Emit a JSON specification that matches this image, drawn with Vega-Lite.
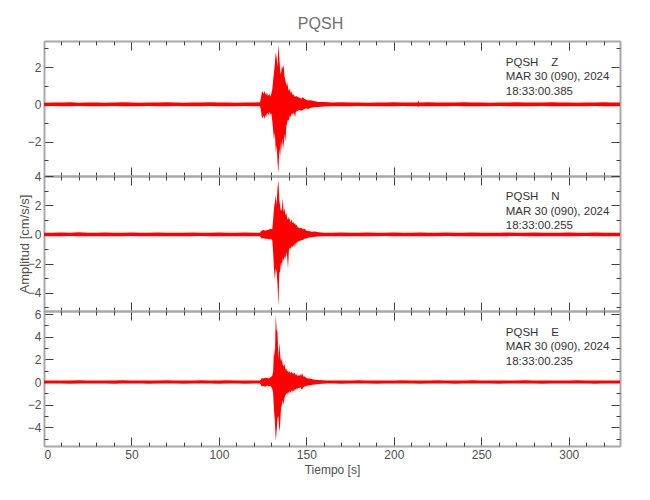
{
  "$schema": "https://vega.github.io/schema/vega-lite/v6.json",
  "background": "white",
  "padding": {"left": 18, "top": 15, "right": 20, "bottom": 5},
  "title": {"text": "PQSH", "fontSize": 16, "font": "Liberation Sans, sans-serif", "fontWeight": "normal", "color": "#707070", "anchor": "middle", "offset": 9},
  "spacing": 0,
  "bounds": "flush",
  "config": {
    "view": {"stroke": null},
    "axis": {"domainColor": "#a8a8a8", "domainWidth": 2, "tickColor": "#404040", "tickWidth": 1, "grid": false,
      "labelFont": "Liberation Sans, sans-serif", "labelFontSize": 12, "labelColor": "#505050",
      "titleFont": "Liberation Sans, sans-serif", "titleFontSize": 13, "titleFontWeight": "normal", "titleColor": "#505050"}
  },
  "datasets": {
    "Z": [
      {"t":0,"lo":-0.1,"hi":0.09},{"t":5,"lo":-0.09,"hi":0.1},{"t":10,"lo":-0.11,"hi":0.1},{"t":15,"lo":-0.1,"hi":0.11},{"t":20,"lo":-0.09,"hi":0.09},
      {"t":25,"lo":-0.1,"hi":0.1},{"t":30,"lo":-0.11,"hi":0.1},{"t":35,"lo":-0.1,"hi":0.09},{"t":40,"lo":-0.09,"hi":0.1},{"t":45,"lo":-0.1,"hi":0.11},
      {"t":50,"lo":-0.1,"hi":0.1},{"t":55,"lo":-0.11,"hi":0.09},{"t":60,"lo":-0.09,"hi":0.1},{"t":65,"lo":-0.1,"hi":0.1},{"t":70,"lo":-0.1,"hi":0.11},
      {"t":75,"lo":-0.09,"hi":0.1},{"t":80,"lo":-0.1,"hi":0.09},{"t":85,"lo":-0.11,"hi":0.1},{"t":90,"lo":-0.1,"hi":0.1},{"t":95,"lo":-0.09,"hi":0.11},
      {"t":100,"lo":-0.1,"hi":0.1},{"t":105,"lo":-0.11,"hi":0.1},{"t":110,"lo":-0.1,"hi":0.09},{"t":115,"lo":-0.09,"hi":0.1},{"t":120,"lo":-0.1,"hi":0.1},
      {"t":123.5,"lo":-0.1,"hi":0.11},{"t":124,"lo":-0.3,"hi":0.35},{"t":124.5,"lo":-0.65,"hi":0.62},{"t":125,"lo":-0.75,"hi":0.7},{"t":125.5,"lo":-0.6,"hi":0.55},
      {"t":126,"lo":-0.8,"hi":0.72},{"t":126.5,"lo":-0.55,"hi":0.6},{"t":127,"lo":-0.7,"hi":0.5},{"t":127.5,"lo":-0.5,"hi":0.65},{"t":128,"lo":-0.45,"hi":0.45},
      {"t":128.5,"lo":-0.6,"hi":0.5},{"t":129,"lo":-0.4,"hi":0.55},{"t":129.5,"lo":-0.55,"hi":0.4},{"t":130,"lo":-0.5,"hi":0.6},{"t":130.5,"lo":-0.9,"hi":0.8},
      {"t":131,"lo":-1.4,"hi":1.3},{"t":131.5,"lo":-1.9,"hi":1.7},{"t":132,"lo":-1.5,"hi":2.2},{"t":132.5,"lo":-2.6,"hi":2.8},{"t":133,"lo":-2.2,"hi":2.5},
      {"t":133.5,"lo":-3.1,"hi":2.0},{"t":134,"lo":-3.7,"hi":3.2},{"t":134.5,"lo":-2.4,"hi":2.6},{"t":135,"lo":-2.8,"hi":1.8},{"t":135.5,"lo":-2.0,"hi":1.6},
      {"t":136,"lo":-2.5,"hi":2.1},{"t":136.5,"lo":-1.8,"hi":1.9},{"t":137,"lo":-2.4,"hi":2.1},{"t":137.5,"lo":-1.6,"hi":1.5},{"t":138,"lo":-2.0,"hi":1.3},
      {"t":138.5,"lo":-1.2,"hi":1.0},{"t":139,"lo":-1.0,"hi":1.2},{"t":139.5,"lo":-0.8,"hi":0.9},{"t":140,"lo":-0.9,"hi":0.7},{"t":140.5,"lo":-0.6,"hi":0.85},
      {"t":141,"lo":-0.7,"hi":0.6},{"t":141.5,"lo":-0.5,"hi":0.7},{"t":142,"lo":-0.55,"hi":0.5},{"t":142.5,"lo":-0.45,"hi":0.55},{"t":143,"lo":-0.5,"hi":0.45},
      {"t":143.5,"lo":-0.7,"hi":0.4},{"t":144,"lo":-0.4,"hi":0.45},{"t":145,"lo":-0.35,"hi":0.4},{"t":146,"lo":-0.3,"hi":0.35},{"t":147,"lo":-0.35,"hi":0.3},
      {"t":148,"lo":-0.3,"hi":0.38},{"t":149,"lo":-0.25,"hi":0.28},{"t":150,"lo":-0.22,"hi":0.25},{"t":151,"lo":-0.25,"hi":0.2},{"t":152,"lo":-0.2,"hi":0.22},
      {"t":153,"lo":-0.18,"hi":0.2},{"t":155,"lo":-0.15,"hi":0.16},{"t":157,"lo":-0.14,"hi":0.13},{"t":160,"lo":-0.12,"hi":0.12},
      {"t":165,"lo":-0.11,"hi":0.1},{"t":170,"lo":-0.1,"hi":0.11},{"t":175,"lo":-0.1,"hi":0.1},{"t":180,"lo":-0.09,"hi":0.1},{"t":185,"lo":-0.1,"hi":0.09},
      {"t":190,"lo":-0.1,"hi":0.1},{"t":195,"lo":-0.11,"hi":0.1},{"t":200,"lo":-0.1,"hi":0.11},{"t":205,"lo":-0.09,"hi":0.1},{"t":210,"lo":-0.1,"hi":0.1},
      {"t":213.5,"lo":-0.1,"hi":0.1},{"t":214,"lo":-0.15,"hi":0.2},{"t":214.5,"lo":-0.1,"hi":0.1},{"t":220,"lo":-0.1,"hi":0.11},{"t":225,"lo":-0.11,"hi":0.1},
      {"t":230,"lo":-0.1,"hi":0.1},{"t":235,"lo":-0.09,"hi":0.1},{"t":240,"lo":-0.1,"hi":0.11},{"t":245,"lo":-0.1,"hi":0.1},{"t":250,"lo":-0.11,"hi":0.1},
      {"t":255,"lo":-0.1,"hi":0.09},{"t":260,"lo":-0.09,"hi":0.1},{"t":265,"lo":-0.1,"hi":0.1},{"t":270,"lo":-0.1,"hi":0.11},{"t":275,"lo":-0.11,"hi":0.1},
      {"t":280,"lo":-0.1,"hi":0.1},{"t":285,"lo":-0.09,"hi":0.1},{"t":290,"lo":-0.1,"hi":0.11},{"t":295,"lo":-0.1,"hi":0.1},{"t":300,"lo":-0.11,"hi":0.1},
      {"t":305,"lo":-0.1,"hi":0.09},{"t":310,"lo":-0.1,"hi":0.1},{"t":315,"lo":-0.09,"hi":0.1},{"t":320,"lo":-0.1,"hi":0.11},{"t":325,"lo":-0.1,"hi":0.1},
      {"t":329.3,"lo":-0.1,"hi":0.1}
    ],
    "N": [
      {"t":0,"lo":-0.12,"hi":0.12},{"t":5,"lo":-0.13,"hi":0.12},{"t":10,"lo":-0.12,"hi":0.13},{"t":15,"lo":-0.11,"hi":0.12},{"t":20,"lo":-0.12,"hi":0.14},
      {"t":25,"lo":-0.13,"hi":0.12},{"t":30,"lo":-0.12,"hi":0.12},{"t":35,"lo":-0.12,"hi":0.13},{"t":40,"lo":-0.13,"hi":0.12},{"t":45,"lo":-0.12,"hi":0.12},
      {"t":50,"lo":-0.11,"hi":0.13},{"t":55,"lo":-0.12,"hi":0.12},{"t":60,"lo":-0.13,"hi":0.12},{"t":65,"lo":-0.12,"hi":0.13},{"t":70,"lo":-0.12,"hi":0.12},
      {"t":75,"lo":-0.13,"hi":0.12},{"t":80,"lo":-0.12,"hi":0.12},{"t":85,"lo":-0.12,"hi":0.13},{"t":90,"lo":-0.11,"hi":0.12},{"t":95,"lo":-0.12,"hi":0.12},
      {"t":100,"lo":-0.13,"hi":0.13},{"t":105,"lo":-0.12,"hi":0.12},{"t":110,"lo":-0.12,"hi":0.12},{"t":115,"lo":-0.13,"hi":0.13},{"t":120,"lo":-0.12,"hi":0.12},
      {"t":123.5,"lo":-0.12,"hi":0.12},{"t":124,"lo":-0.2,"hi":0.2},{"t":124.5,"lo":-0.3,"hi":0.27},{"t":125.5,"lo":-0.25,"hi":0.3},{"t":126.5,"lo":-0.32,"hi":0.25},
      {"t":127.5,"lo":-0.28,"hi":0.3},{"t":128.5,"lo":-0.35,"hi":0.32},{"t":129.5,"lo":-0.3,"hi":0.38},{"t":130.5,"lo":-0.4,"hi":0.35},{"t":131,"lo":-1.2,"hi":1.0},
      {"t":131.5,"lo":-2.4,"hi":1.8},{"t":132,"lo":-3.1,"hi":2.2},{"t":132.5,"lo":-2.3,"hi":2.7},{"t":133,"lo":-2.6,"hi":2.0},{"t":133.5,"lo":-3.4,"hi":3.2},
      {"t":134,"lo":-4.95,"hi":3.7},{"t":134.5,"lo":-2.7,"hi":2.4},{"t":135,"lo":-2.5,"hi":1.9},{"t":135.5,"lo":-1.9,"hi":1.6},{"t":136,"lo":-2.2,"hi":1.7},
      {"t":136.5,"lo":-1.6,"hi":2.5},{"t":137,"lo":-1.8,"hi":1.5},{"t":137.5,"lo":-1.5,"hi":1.8},{"t":138,"lo":-1.7,"hi":1.3},{"t":138.5,"lo":-1.2,"hi":1.5},
      {"t":139,"lo":-1.5,"hi":1.1},{"t":139.5,"lo":-2.35,"hi":1.0},{"t":140,"lo":-1.1,"hi":1.2},{"t":140.5,"lo":-0.9,"hi":1.0},{"t":141,"lo":-1.0,"hi":0.8},
      {"t":141.5,"lo":-0.8,"hi":1.05},{"t":142,"lo":-0.9,"hi":0.75},{"t":142.5,"lo":-0.7,"hi":0.9},{"t":143,"lo":-0.85,"hi":0.7},{"t":143.5,"lo":-0.6,"hi":0.8},
      {"t":144,"lo":-0.7,"hi":0.6},{"t":144.5,"lo":-0.55,"hi":0.65},{"t":145,"lo":-0.5,"hi":0.5},{"t":146,"lo":-0.45,"hi":0.42},{"t":147,"lo":-0.4,"hi":0.45},
      {"t":148,"lo":-0.38,"hi":0.35},{"t":149,"lo":-0.3,"hi":0.38},{"t":150,"lo":-0.28,"hi":0.25},{"t":151.5,"lo":-0.22,"hi":0.24},{"t":153,"lo":-0.2,"hi":0.18},
      {"t":155,"lo":-0.17,"hi":0.2},{"t":157,"lo":-0.15,"hi":0.15},{"t":160,"lo":-0.13,"hi":0.12},
      {"t":165,"lo":-0.13,"hi":0.12},{"t":170,"lo":-0.12,"hi":0.13},{"t":175,"lo":-0.12,"hi":0.12},{"t":180,"lo":-0.13,"hi":0.12},{"t":185,"lo":-0.12,"hi":0.13},
      {"t":190,"lo":-0.12,"hi":0.12},{"t":195,"lo":-0.11,"hi":0.12},{"t":200,"lo":-0.12,"hi":0.13},{"t":205,"lo":-0.13,"hi":0.12},{"t":210,"lo":-0.12,"hi":0.12},
      {"t":215,"lo":-0.12,"hi":0.13},{"t":220,"lo":-0.13,"hi":0.12},{"t":225,"lo":-0.12,"hi":0.12},{"t":230,"lo":-0.11,"hi":0.13},{"t":235,"lo":-0.12,"hi":0.12},
      {"t":240,"lo":-0.13,"hi":0.12},{"t":245,"lo":-0.12,"hi":0.13},{"t":250,"lo":-0.12,"hi":0.12},{"t":255,"lo":-0.13,"hi":0.12},{"t":260,"lo":-0.12,"hi":0.12},
      {"t":265,"lo":-0.12,"hi":0.13},{"t":270,"lo":-0.11,"hi":0.12},{"t":275,"lo":-0.12,"hi":0.12},{"t":280,"lo":-0.13,"hi":0.13},{"t":285,"lo":-0.12,"hi":0.12},
      {"t":290,"lo":-0.12,"hi":0.12},{"t":295,"lo":-0.13,"hi":0.12},{"t":300,"lo":-0.12,"hi":0.13},{"t":305,"lo":-0.12,"hi":0.12},{"t":310,"lo":-0.11,"hi":0.12},
      {"t":315,"lo":-0.12,"hi":0.13},{"t":320,"lo":-0.13,"hi":0.12},{"t":325,"lo":-0.12,"hi":0.12},{"t":329.3,"lo":-0.12,"hi":0.12}
    ],
    "E": [
      {"t":0,"lo":-0.14,"hi":0.13},{"t":5,"lo":-0.13,"hi":0.14},{"t":10,"lo":-0.14,"hi":0.14},{"t":15,"lo":-0.15,"hi":0.13},{"t":20,"lo":-0.13,"hi":0.15},
      {"t":25,"lo":-0.14,"hi":0.14},{"t":30,"lo":-0.14,"hi":0.13},{"t":35,"lo":-0.13,"hi":0.14},{"t":40,"lo":-0.15,"hi":0.14},{"t":45,"lo":-0.14,"hi":0.15},
      {"t":50,"lo":-0.13,"hi":0.14},{"t":55,"lo":-0.14,"hi":0.13},{"t":60,"lo":-0.15,"hi":0.14},{"t":65,"lo":-0.14,"hi":0.14},{"t":70,"lo":-0.13,"hi":0.15},
      {"t":75,"lo":-0.14,"hi":0.14},{"t":80,"lo":-0.15,"hi":0.13},{"t":85,"lo":-0.14,"hi":0.14},{"t":90,"lo":-0.13,"hi":0.15},{"t":95,"lo":-0.14,"hi":0.14},
      {"t":100,"lo":-0.15,"hi":0.14},{"t":105,"lo":-0.14,"hi":0.15},{"t":110,"lo":-0.14,"hi":0.14},{"t":115,"lo":-0.15,"hi":0.14},{"t":120,"lo":-0.14,"hi":0.14},
      {"t":123.5,"lo":-0.14,"hi":0.14},{"t":124,"lo":-0.25,"hi":0.2},{"t":124.5,"lo":-0.4,"hi":0.35},{"t":125.5,"lo":-0.35,"hi":0.3},{"t":126.5,"lo":-0.42,"hi":0.38},
      {"t":127.5,"lo":-0.3,"hi":0.35},{"t":128.5,"lo":-0.38,"hi":0.3},{"t":129.5,"lo":-0.35,"hi":0.42},{"t":130.5,"lo":-0.6,"hi":0.55},{"t":131,"lo":-1.0,"hi":0.9},
      {"t":131.5,"lo":-2.5,"hi":3.0},{"t":132,"lo":-3.5,"hi":2.2},{"t":132.5,"lo":-5.2,"hi":5.97},{"t":133,"lo":-4.3,"hi":4.6},{"t":133.5,"lo":-3.2,"hi":4.4},
      {"t":134,"lo":-3.0,"hi":2.0},{"t":134.5,"lo":-4.4,"hi":3.5},{"t":135,"lo":-3.8,"hi":2.4},{"t":135.5,"lo":-2.3,"hi":1.8},{"t":136,"lo":-2.0,"hi":2.1},
      {"t":136.5,"lo":-1.6,"hi":1.5},{"t":137,"lo":-2.0,"hi":1.4},{"t":137.5,"lo":-1.4,"hi":1.6},{"t":138,"lo":-1.2,"hi":1.1},{"t":138.5,"lo":-1.0,"hi":1.2},
      {"t":139,"lo":-1.1,"hi":0.9},{"t":139.5,"lo":-0.9,"hi":1.05},{"t":140,"lo":-1.0,"hi":0.8},{"t":140.5,"lo":-0.8,"hi":1.0},{"t":141,"lo":-0.95,"hi":0.75},
      {"t":141.5,"lo":-0.7,"hi":0.9},{"t":142,"lo":-0.85,"hi":0.8},{"t":142.5,"lo":-0.75,"hi":0.7},{"t":143,"lo":-0.8,"hi":0.85},{"t":143.5,"lo":-0.6,"hi":0.75},
      {"t":144,"lo":-0.7,"hi":0.6},{"t":144.5,"lo":-0.55,"hi":0.7},{"t":145,"lo":-0.6,"hi":0.5},{"t":145.5,"lo":-0.5,"hi":0.6},{"t":146,"lo":-0.55,"hi":0.55},
      {"t":146.5,"lo":-0.45,"hi":0.7},{"t":147,"lo":-0.6,"hi":0.5},{"t":147.5,"lo":-0.7,"hi":0.8},{"t":148,"lo":-0.5,"hi":0.6},{"t":148.5,"lo":-0.45,"hi":0.45},
      {"t":149,"lo":-0.4,"hi":0.5},{"t":150,"lo":-0.35,"hi":0.35},{"t":151,"lo":-0.3,"hi":0.32},{"t":152,"lo":-0.28,"hi":0.3},{"t":153.5,"lo":-0.25,"hi":0.25},
      {"t":155,"lo":-0.22,"hi":0.2},{"t":157,"lo":-0.18,"hi":0.18},{"t":159,"lo":-0.15,"hi":0.16},{"t":162,"lo":-0.14,"hi":0.14},
      {"t":165,"lo":-0.14,"hi":0.14},{"t":170,"lo":-0.15,"hi":0.13},{"t":175,"lo":-0.14,"hi":0.14},{"t":180,"lo":-0.13,"hi":0.15},{"t":185,"lo":-0.14,"hi":0.14},
      {"t":190,"lo":-0.15,"hi":0.14},{"t":195,"lo":-0.14,"hi":0.13},{"t":200,"lo":-0.13,"hi":0.14},{"t":205,"lo":-0.14,"hi":0.15},{"t":210,"lo":-0.14,"hi":0.14},
      {"t":215,"lo":-0.15,"hi":0.14},{"t":220,"lo":-0.14,"hi":0.14},{"t":225,"lo":-0.13,"hi":0.15},{"t":230,"lo":-0.14,"hi":0.14},{"t":235,"lo":-0.15,"hi":0.13},
      {"t":240,"lo":-0.14,"hi":0.14},{"t":245,"lo":-0.14,"hi":0.15},{"t":250,"lo":-0.13,"hi":0.14},{"t":255,"lo":-0.14,"hi":0.14},{"t":260,"lo":-0.15,"hi":0.14},
      {"t":265,"lo":-0.14,"hi":0.13},{"t":270,"lo":-0.14,"hi":0.14},{"t":275,"lo":-0.13,"hi":0.15},{"t":280,"lo":-0.14,"hi":0.14},{"t":285,"lo":-0.15,"hi":0.14},
      {"t":290,"lo":-0.14,"hi":0.14},{"t":295,"lo":-0.14,"hi":0.13},{"t":300,"lo":-0.13,"hi":0.14},{"t":305,"lo":-0.14,"hi":0.15},{"t":310,"lo":-0.14,"hi":0.14},
      {"t":315,"lo":-0.15,"hi":0.14},{"t":320,"lo":-0.14,"hi":0.14},{"t":325,"lo":-0.13,"hi":0.14},{"t":329.3,"lo":-0.14,"hi":0.14}
    ]
  },
  "vconcat": [
    {
      "width": 576, "height": 135,
      "data": {"name": "Z"},
      "layer": [
        {"mark": {"type": "area", "color": "#ff0000", "clip": true},
         "encoding": {
           "x": {"field": "t", "type": "quantitative", "scale": {"domain": [0, 329.3], "nice": false, "zero": false},
                 "axis": {"orient": "bottom", "values": [0,50,100,150,200,250,300], "tickSize": -9, "labels": false, "title": null}},
           "y": {"field": "lo", "type": "quantitative", "scale": {"domain": [-3.85, 3.4], "nice": false, "zero": false},
                 "axis": {"orient": "left", "values": [-2,0,2], "tickSize": -9, "labelPadding": 12, "title": "Amplitud [cm/s/s]", "titleColor": "transparent", "titlePadding": -4}},
           "y2": {"field": "hi"}
         }},
        {"mark": {"type": "point", "opacity": 0},
         "encoding": {
           "x": {"field": "t", "type": "quantitative", "axis": {"orient": "bottom", "values": [10,20,30,40,60,70,80,90,110,120,130,140,160,170,180,190,210,220,230,240,260,270,280,290,310,320], "tickSize": -4, "labels": false, "domain": false, "title": null}},
           "y": {"field": "lo", "type": "quantitative", "axis": {"orient": "left", "values": [-3,-1,1,3], "tickSize": -4, "labels": false, "domain": false, "title": null}}
         }},
        {"mark": {"type": "point", "opacity": 0},
         "encoding": {
           "x": {"field": "t", "type": "quantitative", "axis": {"orient": "top", "values": [0,50,100,150,200,250,300], "tickSize": -9, "labels": false, "title": null}},
           "y": {"field": "lo", "type": "quantitative", "axis": {"orient": "right", "values": [-2,0,2], "tickSize": -9, "labels": false, "title": null}}
         }},
        {"mark": {"type": "point", "opacity": 0},
         "encoding": {
           "x": {"field": "t", "type": "quantitative", "axis": {"orient": "top", "values": [10,20,30,40,60,70,80,90,110,120,130,140,160,170,180,190,210,220,230,240,260,270,280,290,310,320], "tickSize": -4, "labels": false, "domain": false, "title": null}},
           "y": {"field": "lo", "type": "quantitative", "axis": {"orient": "right", "values": [-3,-1,1,3], "tickSize": -4, "labels": false, "domain": false, "title": null}}
         }},
        {"data": {"values": [{"station": "PQSH", "comp": "Z"}]},
         "mark": {"type": "text", "text": ["PQSH\u00a0\u00a0\u00a0\u00a0Z", "MAR 30 (090), 2024", "18:33:00.385"], "align": "left", "baseline": "top", "lineHeight": 14.5, "fontSize": 11.5, "font": "Liberation Sans, sans-serif", "color": "#333333"},
         "encoding": {"x": {"datum": 264, "type": "quantitative", "axis": null}, "y": {"datum": 2.56, "type": "quantitative", "axis": null}}}
      ],
      "resolve": {"axis": {"x": "independent", "y": "independent"}}
    },
    {
      "width": 576, "height": 135,
      "data": {"name": "N"},
      "layer": [
        {"mark": {"type": "area", "color": "#ff0000", "clip": true},
         "encoding": {
           "x": {"field": "t", "type": "quantitative", "scale": {"domain": [0, 329.3], "nice": false, "zero": false},
                 "axis": {"orient": "bottom", "values": [0,50,100,150,200,250,300], "tickSize": -9, "labels": false, "title": null}},
           "y": {"field": "lo", "type": "quantitative", "scale": {"domain": [-5.25, 4.0], "nice": false, "zero": false},
                 "axis": {"orient": "left", "values": [-4,-2,0,2,4], "tickSize": -9, "labelPadding": 12, "title": "Amplitud [cm/s/s]", "titlePadding": -4}},
           "y2": {"field": "hi"}
         }},
        {"mark": {"type": "point", "opacity": 0},
         "encoding": {
           "x": {"field": "t", "type": "quantitative", "axis": {"orient": "bottom", "values": [10,20,30,40,60,70,80,90,110,120,130,140,160,170,180,190,210,220,230,240,260,270,280,290,310,320], "tickSize": -4, "labels": false, "domain": false, "title": null}},
           "y": {"field": "lo", "type": "quantitative", "axis": {"orient": "left", "values": [-5,-3,-1,1,3], "tickSize": -4, "labels": false, "domain": false, "title": null}}
         }},
        {"mark": {"type": "point", "opacity": 0},
         "encoding": {
           "x": {"field": "t", "type": "quantitative", "axis": {"orient": "top", "values": [0,50,100,150,200,250,300], "tickSize": -9, "labels": false, "title": null}},
           "y": {"field": "lo", "type": "quantitative", "axis": {"orient": "right", "values": [-4,-2,0,2,4], "tickSize": -9, "labels": false, "title": null}}
         }},
        {"mark": {"type": "point", "opacity": 0},
         "encoding": {
           "x": {"field": "t", "type": "quantitative", "axis": {"orient": "top", "values": [10,20,30,40,60,70,80,90,110,120,130,140,160,170,180,190,210,220,230,240,260,270,280,290,310,320], "tickSize": -4, "labels": false, "domain": false, "title": null}},
           "y": {"field": "lo", "type": "quantitative", "axis": {"orient": "right", "values": [-5,-3,-1,1,3], "tickSize": -4, "labels": false, "domain": false, "title": null}}
         }},
        {"data": {"values": [{"station": "PQSH", "comp": "N"}]},
         "mark": {"type": "text", "text": ["PQSH\u00a0\u00a0\u00a0\u00a0N", "MAR 30 (090), 2024", "18:33:00.255"], "align": "left", "baseline": "top", "lineHeight": 14.5, "fontSize": 11.5, "font": "Liberation Sans, sans-serif", "color": "#333333"},
         "encoding": {"x": {"datum": 264, "type": "quantitative", "axis": null}, "y": {"datum": 2.97, "type": "quantitative", "axis": null}}}
      ],
      "resolve": {"axis": {"x": "independent", "y": "independent"}}
    },
    {
      "width": 576, "height": 135,
      "data": {"name": "E"},
      "layer": [
        {"mark": {"type": "area", "color": "#ff0000", "clip": true},
         "encoding": {
           "x": {"field": "t", "type": "quantitative", "scale": {"domain": [0, 329.3], "nice": false, "zero": false},
                 "axis": {"orient": "bottom", "values": [0,50,100,150,200,250,300], "tickSize": -9, "labelPadding": 12, "title": "Tiempo [s]", "titleFontSize": 12, "titlePadding": 4}},
           "y": {"field": "lo", "type": "quantitative", "scale": {"domain": [-5.65, 6.27], "nice": false, "zero": false},
                 "axis": {"orient": "left", "values": [-4,-2,0,2,4,6], "tickSize": -9, "labelPadding": 12, "title": "Amplitud [cm/s/s]", "titleColor": "transparent", "titlePadding": -4}},
           "y2": {"field": "hi"}
         }},
        {"mark": {"type": "point", "opacity": 0},
         "encoding": {
           "x": {"field": "t", "type": "quantitative", "axis": {"orient": "bottom", "values": [10,20,30,40,60,70,80,90,110,120,130,140,160,170,180,190,210,220,230,240,260,270,280,290,310,320], "tickSize": -4, "labels": false, "domain": false, "title": null}},
           "y": {"field": "lo", "type": "quantitative", "axis": {"orient": "left", "values": [-5,-3,-1,1,3,5], "tickSize": -4, "labels": false, "domain": false, "title": null}}
         }},
        {"mark": {"type": "point", "opacity": 0},
         "encoding": {
           "x": {"field": "t", "type": "quantitative", "axis": {"orient": "top", "values": [0,50,100,150,200,250,300], "tickSize": -9, "labels": false, "title": null}},
           "y": {"field": "lo", "type": "quantitative", "axis": {"orient": "right", "values": [-4,-2,0,2,4,6], "tickSize": -9, "labels": false, "title": null}}
         }},
        {"mark": {"type": "point", "opacity": 0},
         "encoding": {
           "x": {"field": "t", "type": "quantitative", "axis": {"orient": "top", "values": [10,20,30,40,60,70,80,90,110,120,130,140,160,170,180,190,210,220,230,240,260,270,280,290,310,320], "tickSize": -4, "labels": false, "domain": false, "title": null}},
           "y": {"field": "lo", "type": "quantitative", "axis": {"orient": "right", "values": [-5,-3,-1,1,3,5], "tickSize": -4, "labels": false, "domain": false, "title": null}}
         }},
        {"data": {"values": [{"station": "PQSH", "comp": "E"}]},
         "mark": {"type": "text", "text": ["PQSH\u00a0\u00a0\u00a0\u00a0E", "MAR 30 (090), 2024", "18:33:00.235"], "align": "left", "baseline": "top", "lineHeight": 14.5, "fontSize": 11.5, "font": "Liberation Sans, sans-serif", "color": "#333333"},
         "encoding": {"x": {"datum": 264, "type": "quantitative", "axis": null}, "y": {"datum": 4.88, "type": "quantitative", "axis": null}}}
      ],
      "resolve": {"axis": {"x": "independent", "y": "independent"}}
    }
  ]
}
